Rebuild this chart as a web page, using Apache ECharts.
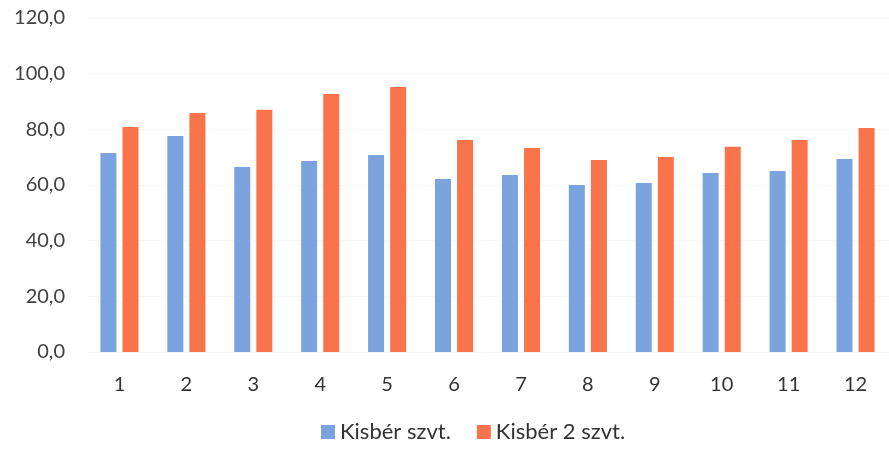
<!DOCTYPE html>
<html>
<head>
<meta charset="utf-8">
<script src="https://cdn.jsdelivr.net/npm/echarts@6/dist/echarts.min.js"></script>
<style>html,body{margin:0;padding:0;background:#fff;}#c{width:889px;height:450px;}</style>
</head>
<body>
<div id="c"></div>
<script>
const categories = ['1','2','3','4','5','6','7','8','9','10','11','12'];
const seriesNames = ['Kisbér szvt.', 'Kisbér 2 szvt.'];
const kisber = [71.5, 77.6, 66.5, 68.6, 70.8, 62.2, 63.6, 60.0, 60.7, 64.3, 65.0, 69.3];
const kisber2 = [80.8, 85.9, 87.0, 92.7, 95.2, 76.2, 73.3, 69.0, 70.1, 73.7, 76.2, 80.5];
const yTicks = [0, 20, 40, 60, 80, 100, 120];

const chart = echarts.init(document.getElementById('c'));
const font = 'Lato, "Open Sans", sans-serif';
chart.setOption({
  animation: false,
  textStyle: { fontFamily: font },
  grid: { left: 86, top: 18, width: 828, height: 334, containLabel: false },
  legend: {
    data: seriesNames,
    bottom: 2,
    left: 316,
    itemWidth: 14, itemHeight: 14, itemGap: 26,
    icon: 'rect',
    textStyle: { fontSize: 22, color: '#333333', fontFamily: font }
  },
  xAxis: {
    type: 'category',
    data: categories,
    axisLine: { show: false },
    axisTick: { show: false },
    axisLabel: { fontSize: 20, color: '#333333', margin: 23, fontFamily: font }
  },
  yAxis: {
    type: 'value',
    min: yTicks[0], max: yTicks[yTicks.length - 1], interval: 20,
    axisLine: { show: false },
    axisTick: { show: false },
    splitLine: { lineStyle: { color: '#f8f8f8' } },
    axisLabel: {
      fontSize: 20, color: '#404040', margin: 21, fontFamily: font,
      formatter: v => v.toFixed(1).replace('.', ',')
    }
  },
  series: [
    { name: seriesNames[0], type: 'bar', data: kisber, barWidth: 16, barGap: '38%', itemStyle: { color: '#7BA3DD' } },
    { name: seriesNames[1], type: 'bar', data: kisber2, barWidth: 16, itemStyle: { color: '#F9744A' } }
  ]
});
</script>
</body>
</html>
